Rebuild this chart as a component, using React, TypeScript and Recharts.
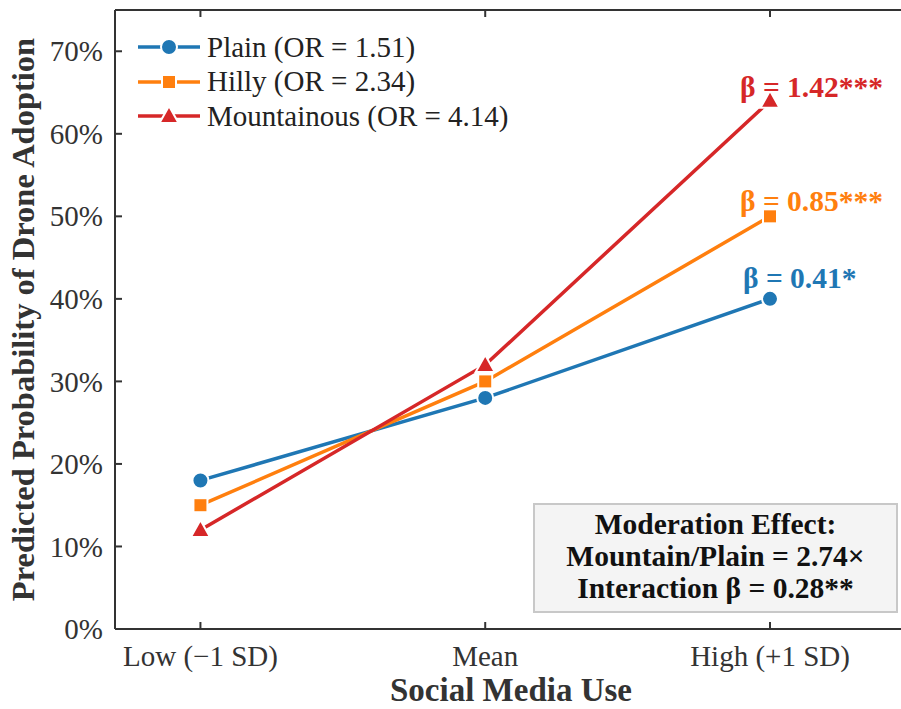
import React from 'react';
import { LineChart, Line, XAxis, YAxis, LabelList } from 'recharts';

const levels = ['Low (\u22121 SD)', 'Mean', 'High (+1 SD)'];
const plain = [0.18, 0.28, 0.4];
const hilly = [0.15, 0.3, 0.5];
const mountain = [0.12, 0.32, 0.64];
const yTicks = [0, 0.1, 0.2, 0.3, 0.4, 0.5, 0.6, 0.7];
const betaPlain = '\u03b2 = 0.41*';
const betaHilly = '\u03b2 = 0.85***';
const betaMountain = '\u03b2 = 1.42***';
const boxLines = ['Moderation Effect:', 'Mountain/Plain = 2.74\u00d7', 'Interaction \u03b2 = 0.28**'];

const data = levels.map((label, i) => ({
  x: i,
  label,
  plain: plain[i],
  hilly: hilly[i],
  mountain: mountain[i],
}));

const BLUE = '#1f77b4';
const ORANGE = '#ff7f0e';
const RED = '#d62728';
const AXIS = '#333';
const FONT = '"Liberation Serif", "Times New Roman", serif';

const Marker = ({ shape, cx, cy, color }: any) => {
  if (cx == null || cy == null) return null;
  if (shape === 'circle') {
    return <circle cx={cx} cy={cy} r={8} fill={color} stroke="#fff" strokeWidth={2} />;
  }
  if (shape === 'square') {
    return <rect x={cx - 7} y={cy - 7} width={14} height={14} fill={color} stroke="#fff" strokeWidth={2} />;
  }
  return (
    <polygon
      points={`${cx},${cy - 10} ${cx + 9.5},${cy + 7} ${cx - 9.5},${cy + 7}`}
      fill={color}
      stroke="#fff"
      strokeWidth={2}
    />
  );
};

const XTick = ({ x, y, payload }: any) => (
  <g>
    <line x1={x} x2={x} y1={y} y2={y - 7} stroke={AXIS} strokeWidth={2} />
    <text x={x} y={y + 37} textAnchor="middle" fontSize={29} fill="#333" fontFamily={FONT}>
      {levels[payload.value]}
    </text>
  </g>
);

const TopTick = ({ x, y }: any) => (
  <line x1={x} x2={x} y1={y} y2={y + 7} stroke={AXIS} strokeWidth={2} />
);

const YTick = ({ x, y, payload }: any) => (
  <g>
    <line x1={x} x2={x + 7} y1={y} y2={y} stroke={AXIS} strokeWidth={2} />
    <text x={x - 12} y={y} dy="0.35em" textAnchor="end" fontSize={29} fill="#333" fontFamily={FONT}>
      {`${Math.round(payload.value * 100)}%`}
    </text>
  </g>
);

const betaLabel = (text: string, color: string, dx: number, dy: number) => (props: any) => {
  const { x, y, index } = props;
  if (index !== 2) return null;
  return (
    <text x={x + dx} y={y + dy} fontSize={29.5} fontWeight="bold" fill={color} fontFamily={FONT}>
      {text}
    </text>
  );
};

const legendItems = [
  { name: 'Plain (OR = 1.51)', color: BLUE, shape: 'circle' },
  { name: 'Hilly (OR = 2.34)', color: ORANGE, shape: 'square' },
  { name: 'Mountainous (OR = 4.14)', color: RED, shape: 'triangle' },
];

export default function App() {
  return (
    <div style={{ position: 'absolute', left: 0, top: 0, width: 901, height: 709, background: '#fff' }}>
      <LineChart width={901} height={709} data={data} margin={{ top: 0, right: 0, bottom: 0, left: 0 }}>
        <XAxis
          dataKey="x"
          type="number"
          domain={[-0.3, 2.46]}
          ticks={[0, 1, 2]}
          allowDataOverflow
          height={80}
          tickSize={0}
          tickMargin={0}
          tickLine={false}
          axisLine={{ stroke: AXIS, strokeWidth: 2 }}
          tick={<XTick />}
        />
        <XAxis
          xAxisId="top"
          orientation="top"
          dataKey="x"
          type="number"
          domain={[-0.3, 2.46]}
          ticks={[0, 1, 2]}
          allowDataOverflow
          height={10}
          tickSize={0}
          tickMargin={0}
          tickLine={false}
          axisLine={{ stroke: AXIS, strokeWidth: 2 }}
          tick={<TopTick />}
        />
        <YAxis
          type="number"
          domain={[0, 0.75]}
          ticks={yTicks}
          allowDataOverflow
          width={115}
          tickSize={0}
          tickMargin={0}
          tickLine={false}
          axisLine={{ stroke: AXIS, strokeWidth: 2 }}
          tick={<YTick />}
          label={{
            value: 'Predicted Probability of Drone Adoption',
            angle: -90,
            position: 'insideLeft',
            dx: 17,
            style: { fontSize: 32.5, fontWeight: 'bold', fill: '#333', fontFamily: FONT, textAnchor: 'middle' },
          }}
        />
        <Line
          dataKey="plain"
          stroke={BLUE}
          strokeWidth={3.5}
          isAnimationActive={false}
          dot={(p: any) => <Marker key={`p${p.index}`} shape="circle" cx={p.cx} cy={p.cy} color={BLUE} />}
          activeDot={false}
        >
          <LabelList dataKey="plain" content={betaLabel(betaPlain, BLUE, -27, -11)} />
        </Line>
        <Line
          dataKey="hilly"
          stroke={ORANGE}
          strokeWidth={3.5}
          isAnimationActive={false}
          dot={(p: any) => <Marker key={`h${p.index}`} shape="square" cx={p.cx} cy={p.cy} color={ORANGE} />}
          activeDot={false}
        >
          <LabelList dataKey="hilly" content={betaLabel(betaHilly, ORANGE, -30, -5)} />
        </Line>
        <Line
          dataKey="mountain"
          stroke={RED}
          strokeWidth={3.5}
          isAnimationActive={false}
          dot={(p: any) => <Marker key={`m${p.index}`} shape="triangle" cx={p.cx} cy={p.cy} color={RED} />}
          activeDot={false}
        >
          <LabelList dataKey="mountain" content={betaLabel(betaMountain, RED, -30, -4)} />
        </Line>
      </LineChart>

      <div
        style={{
          position: 'absolute',
          left: 0,
          top: 671,
          width: 1022,
          textAlign: 'center',
          fontFamily: FONT,
          fontWeight: 'bold',
          fontSize: 33,
          color: '#333',
          lineHeight: '38px',
        }}
      >
        Social Media Use
      </div>

      <div style={{ position: 'absolute', left: 136, top: 30, fontFamily: FONT, fontSize: 29, color: '#222' }}>
        {legendItems.map((it) => (
          <div key={it.name} style={{ display: 'flex', alignItems: 'center', height: 34.5 }}>
            <svg width={66} height={24} style={{ marginRight: 5 }}>
              <line x1={2} x2={64} y1={12} y2={12} stroke={it.color} strokeWidth={3.5} />
              <Marker shape={it.shape} cx={33} cy={12} color={it.color} />
            </svg>
            <span>{it.name}</span>
          </div>
        ))}
      </div>

      <div
        style={{
          position: 'absolute',
          left: 533,
          top: 503,
          width: 365,
          height: 110,
          boxSizing: 'border-box',
          background: '#f4f4f4',
          border: '2px solid #c8c8c8',
          fontFamily: FONT,
          fontWeight: 'bold',
          fontSize: 29.5,
          color: '#111',
          textAlign: 'center',
          lineHeight: '32px',
          paddingTop: 3,
        }}
      >
        {boxLines.map((l) => (
          <div key={l}>{l}</div>
        ))}
      </div>
    </div>
  );
}
